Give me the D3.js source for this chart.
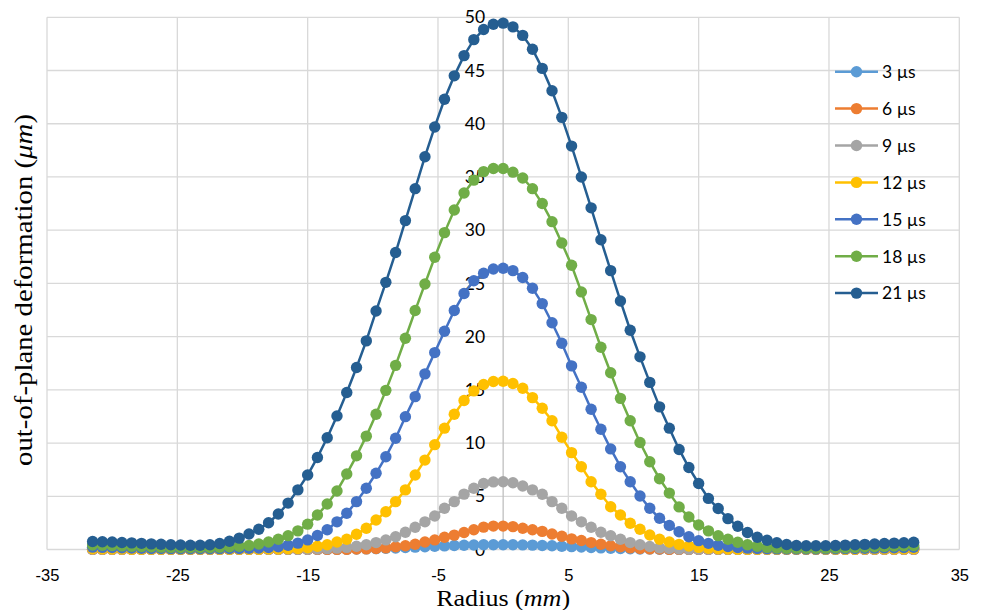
<!DOCTYPE html>
<html><head><meta charset="utf-8">
<script src="https://cdn.jsdelivr.net/npm/d3@7"></script>
<style>body{margin:0;background:#fff}</style>
</head><body>
<svg id="chart" width="983" height="610"></svg>
<script>
// ---- data ----
const radius = [-31.5,-30.75,-30,-29.25,-28.5,-27.75,-27,-26.25,-25.5,-24.75,-24,-23.25,-22.5,-21.75,-21,-20.25,-19.5,-18.75,-18,-17.25,-16.5,-15.75,-15,-14.25,-13.5,-12.75,-12,-11.25,-10.5,-9.75,-9,-8.25,-7.5,-6.75,-6,-5.25,-4.5,-3.75,-3,-2.25,-1.5,-0.75,0,0.75,1.5,2.25,3,3.75,4.5,5.25,6,6.75,7.5,8.25,9,9.75,10.5,11.25,12,12.75,13.5,14.25,15,15.75,16.5,17.25,18,18.75,19.5,20.25,21,21.75,22.5,23.25,24,24.75,25.5,26.25,27,27.75,28.5,29.25,30,30.75,31.5];
const seriesNames = ["3 µs","6 µs","9 µs","12 µs","15 µs","18 µs","21 µs"];
const seriesColors = ["#5B9BD5","#ED7D31","#A5A5A5","#FFC000","#4472C4","#70AD47","#255E91"];
const s3 = [0.01,0.01,0.01,0.01,0.01,0.01,0.01,0.01,0.01,0.01,0.01,0.01,0.01,0.01,0.01,0.01,0.01,0.01,0.01,0.01,0.01,0.01,0.01,0.01,0.01,0.01,
 0.03,0.04,0.06,0.08,0.11,0.14,0.18,0.22,0.26,0.3,0.34,0.37,0.4,0.42,0.44,0.45,0.45,0.44,0.43,0.41,0.38,0.35,0.31,0.27,0.23,0.19,0.15,0.12,0.09,0.07,0.05,0.04,0.03,
 0.01,0.01,0.01,0.01,0.01,0.01,0.01,0.01,0.01,0.01,0.01,0.01,0.01,0.01,0.01,0.01,0.01,0.01,0.01,0.01,0.01,0.01,0.01,0.01,0.01,0.01];
const s6 = [0.01,0.01,0.01,0.01,0.01,0.01,0.01,0.01,0.01,0.01,0.01,0.01,0.01,0.01,0.01,0.01,0.01,0.01,0.01,0.01,0.01,0.01,0.01,0.01,0.01,0.01,0.01,
 0.04,0.06,0.1,0.15,0.25,0.35,0.5,0.7,0.9,1.15,1.35,1.6,1.85,2.1,2.2,2.2,2.15,2.0,1.85,1.7,1.45,1.25,1.0,0.85,0.65,0.5,0.35,0.25,0.15,0.1,0.06,0.04,
 0.01,0.01,0.01,0.01,0.01,0.01,0.01,0.01,0.01,0.01,0.01,0.01,0.01,0.01,0.01,0.01,0.01,0.01,0.01,0.01,0.01,0.01,0.01,0.01,0.01,0.01];
const s9 = [0.02,0.02,0.02,0.02,0.02,0.02,0.02,0.02,0.02,0.02,0.02,0.02,0.02,0.02,0.02,0.02,0.02,0.02,0.02,0.02,0.02,0.02,
 0.03,0.05,0.08,0.13,0.2,0.3,0.45,0.65,0.9,1.2,1.62,2.09,2.6,3.15,3.87,4.5,5.2,5.75,6.2,6.35,6.37,6.27,5.97,5.6,5.19,4.5,3.87,3.15,2.6,2.09,1.62,1.3,0.96,0.65,0.45,0.28,0.15,0.09,0.05,0.03,
 0.02,0.02,0.02,0.02,0.02,0.02,0.02,0.02,0.02,0.02,0.02,0.02,0.02,0.02,0.02,0.02,0.02,0.02,0.02,0.02,0.02,0.02,0.02];
const s12 = [0.07,0.06,0.05,0.04,0.03,0.03,0.02,0.02,0.02,0.02,0.02,0.02,0.02,0.02,0.02,0.02,
 0.02,0.03,0.04,0.05,0.07,0.1,0.16,0.3,0.45,0.7,0.96,1.43,2.0,2.77,3.55,4.5,5.6,7.0,8.4,9.85,11.4,12.7,14.0,14.9,15.5,15.78,15.8,15.6,15.15,14.27,13.27,12.1,10.55,9.1,7.78,6.37,5.19,4.02,3.24,2.46,1.9,1.36,0.96,0.7,0.48,0.32,0.2,0.12,0.07,0.04,0.03,
 0.02,0.02,0.02,0.02,0.02,0.02,0.02,0.02,0.02,0.02,0.03,0.03,0.04,0.04,0.05,0.05,0.06,0.07];
const s15 = [0.22,0.2,0.18,0.16,0.14,0.12,0.1,0.09,0.08,0.07,0.07,0.07,0.07,0.08,0.09,0.1,0.12,0.14,0.18,0.26,
 0.4,0.6,0.9,1.32,1.85,2.6,3.4,4.5,5.75,7.16,8.72,10.45,12.48,14.36,16.5,18.5,20.5,22.45,24.05,25.25,
 25.96,26.35,26.43,26.2,25.55,24.55,23.1,21.3,19.38,17.25,15.24,13.18,11.3,9.45,7.78,6.37,5.03,3.87,2.93,2.25,
 1.67,1.2,0.83,0.58,0.4,0.28,0.19,0.13,0.09,0.07,0.06,0.05,0.05,0.05,0.05,0.06,0.07,0.08,0.1,0.12,
 0.13,0.15,0.17,0.19,0.21];
const s18 = [0.42,0.4,0.37,0.34,0.31,0.28,0.25,0.22,0.2,0.19,0.18,0.18,0.19,0.21,0.25,0.3,0.38,0.52,0.7,0.96,
 1.3,1.75,2.38,3.24,4.28,5.5,7.1,8.8,10.65,12.7,14.95,17.3,19.85,22.45,24.95,27.46,29.77,31.9,33.5,34.7,
 35.5,35.8,35.8,35.45,34.9,33.9,32.5,30.8,28.8,26.7,24.2,21.6,19.0,16.6,14.2,12.1,10.05,8.25,6.65,5.3,
 4.0,3.05,2.3,1.75,1.3,0.97,0.68,0.45,0.3,0.2,0.14,0.12,0.11,0.11,0.12,0.13,0.15,0.17,0.2,0.23,
 0.26,0.29,0.32,0.35,0.38];
const s21 = [0.75,0.73,0.7,0.66,0.62,0.58,0.53,0.49,0.45,0.42,0.4,0.4,0.45,0.57,0.77,1.07,1.45,1.9,2.52,3.33,
 4.36,5.6,7.0,8.65,10.5,12.55,14.75,17.1,19.6,22.4,25.1,27.9,30.9,33.9,36.9,39.7,42.3,44.5,46.4,47.9,
 48.85,49.35,49.45,49.1,48.3,47.0,45.2,43.1,40.6,37.9,35.0,32.1,29.1,26.2,23.35,20.6,18.1,15.7,13.4,11.4,
 9.4,7.7,6.2,4.8,3.85,2.9,2.18,1.6,1.15,0.87,0.63,0.47,0.38,0.35,0.35,0.36,0.38,0.41,0.44,0.48,
 0.52,0.56,0.6,0.64,0.68];
const xTicks = [-35,-25,-15,-5,5,15,25,35];
const yTicks = [0,5,10,15,20,25,30,35,40,45,50];
const xLabel = "Radius";
const yLabel = "out-of-plane deformation";

const allSeries = [s3,s6,s9,s12,s15,s18,s21];

// ---- drawing ----
const svg = d3.select("#chart");
svg.append("rect").attr("width",983).attr("height",610).attr("fill","#fff");
const x = d3.scaleLinear().domain([-35,35]).range([47,959.3]);
const y = d3.scaleLinear().domain([0,50]).range([549.5,17.3]);

const grid = svg.append("g");
grid.selectAll("line.h").data(yTicks).join("line")
  .attr("x1",x(-35)).attr("x2",x(35)).attr("y1",d=>y(d)).attr("y2",d=>y(d))
  .attr("stroke","#D9D9D9").attr("stroke-width",1.3);
grid.selectAll("line.v").data(xTicks).join("line")
  .attr("x1",d=>x(d)).attr("x2",d=>x(d)).attr("y1",y(0)).attr("y2",y(50))
  .attr("stroke","#D9D9D9").attr("stroke-width",1.3);
svg.append("line").attr("x1",x(0)).attr("x2",x(0)).attr("y1",y(0)).attr("y2",y(50))
  .attr("stroke","#BFBFBF").attr("stroke-width",1.3);

// axes (labels only)
const yAxis = svg.append("g").attr("transform",`translate(${x(0)},0)`)
  .call(d3.axisLeft(y).tickValues(yTicks).tickSize(0).tickPadding(18).tickFormat(d=>String(d)));
yAxis.select(".domain").remove();
yAxis.selectAll("text").attr("font-family","Lato, 'Open Sans', sans-serif").attr("font-size",17.5).attr("fill","#000");

const xAxis = svg.append("g").attr("transform",`translate(0,${y(0)})`)
  .call(d3.axisBottom(x).tickValues(xTicks).tickSize(0).tickPadding(20).tickFormat(d=>String(d)));
xAxis.select(".domain").remove();
xAxis.selectAll("text").attr("font-family","'Liberation Sans Narrow', 'Arial Narrow', 'Liberation Sans', sans-serif")
  .attr("font-size",16.5).attr("fill","#000");

// series
const line = d3.line().x((d,i)=>x(radius[i])).y(d=>y(d));
allSeries.forEach((s,k)=>{
  const g = svg.append("g");
  g.append("path").attr("d",line(s)).attr("fill","none")
    .attr("stroke",seriesColors[k]).attr("stroke-width",2.5);
  g.selectAll("circle").data(s).join("circle")
    .attr("cx",(d,i)=>x(radius[i])).attr("cy",d=>y(d)).attr("r",5.7)
    .attr("fill",seriesColors[k]);
});

// legend
const leg = svg.append("g");
seriesNames.forEach((n,k)=>{
  const yy = 71.7 + k*36.9;
  leg.append("line").attr("x1",835).attr("x2",878).attr("y1",yy).attr("y2",yy)
    .attr("stroke",seriesColors[k]).attr("stroke-width",2.5);
  leg.append("circle").attr("cx",856.5).attr("cy",yy).attr("r",5.7).attr("fill",seriesColors[k]);
  leg.append("text").attr("x",882).attr("y",yy).attr("dy","0.36em")
    .attr("font-family","Lato, 'Open Sans', sans-serif").attr("font-size",17.5).attr("fill","#000").text(n);
});

// titles
const xt = svg.append("text").attr("x",x(0)).attr("y",606).attr("text-anchor","middle")
  .attr("font-family","'Liberation Serif','Times New Roman',serif").attr("font-size",24).attr("fill","#000")
  .attr("textLength",134).attr("lengthAdjust","spacingAndGlyphs");
xt.append("tspan").text(xLabel+" (");
xt.append("tspan").attr("font-style","italic").text("mm");
xt.append("tspan").text(")");

const yt = svg.append("text").attr("transform","translate(32,290) rotate(-90)").attr("text-anchor","middle")
  .attr("font-family","'Liberation Serif','Times New Roman',serif").attr("font-size",25).attr("fill","#000")
  .attr("textLength",352).attr("lengthAdjust","spacingAndGlyphs");
yt.append("tspan").text(yLabel+" (");
yt.append("tspan").attr("font-style","italic").text("μm");
yt.append("tspan").text(")");
</script>
</body></html>
